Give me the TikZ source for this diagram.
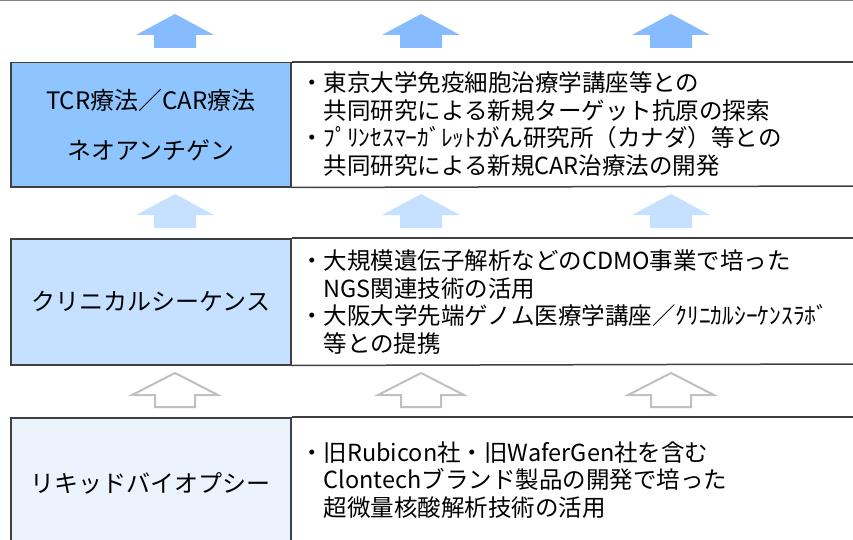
\documentclass[tikz,border=0pt]{standalone}
\usepackage{fontspec}
\usepackage{xcolor}
\usepackage{tikz}
\setmainfont{Noto Sans CJK JP}
\definecolor{deepblue}{RGB}{142,197,255}
\definecolor{midblue}{RGB}{197,225,255}
\definecolor{paleblue}{RGB}{235,244,253}
\definecolor{framegray}{RGB}{64,64,64}
\definecolor{arrowgray}{RGB}{192,192,192}

\tikzset{
  uparr/.pic={\path[pic actions] (-21,0) -- (-21,-13) -- (-39,-13) -- (0,-34) -- (39,-13) -- (21,-13) -- (21,0) -- cycle;},
  wideuparr/.pic={\path[pic actions] (-20,0) -- (-20,-12) -- (-43,-12) -- (0,-34) -- (43,-12) -- (20,-12) -- (20,0) -- cycle;},
  themebox/.style={draw=framegray, line width=1.5pt, minimum width=280pt, anchor=north west, inner sep=0pt},
  themetext/.style={font=\fontsize{24}{50}\selectfont, align=center},
  itemtext/.style={font=\fontsize{23.5}{27.5}\selectfont, align=left, anchor=west, inner sep=0pt}
}

\begin{document}
\begin{tikzpicture}[x=1pt, y=-1pt]
\useasboundingbox (0,0) rectangle (853,540);
% top rule
\draw[gray, line width=1pt] (0,1) -- (853,1);

% upward arrows
\foreach \cx in {175,421,671} {
  \pic[fill=deepblue!95!blue] at (\cx,48) {uparr};
  \pic[fill=midblue] at (\cx,228) {uparr};
  \pic[draw=arrowgray, line width=2pt, fill=white] at (\cx,407) {wideuparr};
}

% row 1
\node[themebox, fill=deepblue, minimum height=124pt] (immuno) at (10,62) {};
\draw[framegray, line width=1.5pt] (immuno.north east) -- (853,62);
\draw[framegray, line width=1.5pt] (immuno.south east) -- (853,186);
\node[themetext] (immunolbl) at (immuno.center) {TCR療法／CAR療法\\ネオアンチゲン};
\node[itemtext] (immunoitems) at (300,124) {・東京大学免疫細胞治療学講座等との\\　共同研究による新規ターゲット抗原の探索\\・ﾌﾟﾘﾝｾｽﾏｰｶﾞﾚｯﾄがん研究所（カナダ）等との\\　共同研究による新規CAR治療法の開発};

% row 2
\node[themebox, fill=midblue, minimum height=126pt] (clinseq) at (10,238) {};
\draw[framegray, line width=1.5pt] (clinseq.north east) -- (853,238);
\draw[framegray, line width=1.5pt] (clinseq.south east) -- (853,364);
\node[themetext] (clinseqlbl) at (clinseq.center) {クリニカルシーケンス};
\node[itemtext] (clinseqitems) at (300,302) {・大規模遺伝子解析などのCDMO事業で培った\\　NGS関連技術の活用\\・大阪大学先端ゲノム医療学講座／ｸﾘﾆｶﾙｼｰｹﾝｽﾗﾎﾞ\\　等との提携};

% row 3
\node[themebox, fill=paleblue, minimum height=130pt] (liquid) at (10,417) {};
\draw[framegray, line width=1.5pt] (liquid.north east) -- (853,417);
\node[themetext] (liquidlbl) at (150,483) {リキッドバイオプシー};
\node[itemtext] (liquiditems) at (300,480) {・旧Rubicon社・旧WaferGen社を含む\\　Clontechブランド製品の開発で培った\\　超微量核酸解析技術の活用};
\end{tikzpicture}
\end{document}
